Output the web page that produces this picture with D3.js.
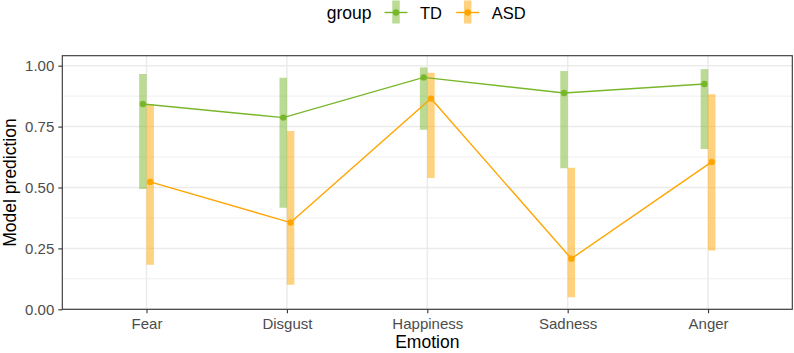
<!DOCTYPE html>
<html>
<head>
<meta charset="utf-8">
<script src="https://cdn.jsdelivr.net/npm/d3@7"></script>
<style>
  body { margin: 0; background: #fff; }
  svg { display: block; font-family: "Liberation Sans", Arial, sans-serif; }
</style>
</head>
<body>
<svg id="chart"></svg>
<script>
// data
const emotions = ["Fear", "Disgust", "Happiness", "Sadness", "Anger"];
const groups = ["TD", "ASD"];
const tdMean = [0.843, 0.787, 0.952, 0.888, 0.925];
const tdLow = [0.494, 0.417, 0.737, 0.579, 0.658];
const tdHigh = [0.966, 0.950, 0.993, 0.978, 0.986];
const asdMean = [0.523, 0.356, 0.865, 0.208, 0.605];
const asdLow = [0.183, 0.101, 0.539, 0.049, 0.241];
const asdHigh = [0.842, 0.732, 0.971, 0.581, 0.883];
const yTicks = [0, 0.25, 0.5, 0.75, 1];
const yMinor = [0.125, 0.375, 0.625, 0.875];

const width = 794;
const height = 353;
const margin = { top: 55.7, right: 1.7, bottom: 43.7, left: 62.3 };

const colors = { TD: "#78b72a", ASD: "#ffa500" };

const series = [
  { group: "TD", mean: tdMean, low: tdLow, high: tdHigh, dodge: -1 },
  { group: "ASD", mean: asdMean, low: asdLow, high: asdHigh, dodge: 1 },
];

const svg = d3.select("#chart").attr("width", width).attr("height", height);

const x = d3
  .scalePoint()
  .domain(emotions)
  .range([margin.left, width - margin.right])
  .padding(0.6);

const y = d3
  .scaleLinear()
  .domain([0, 1.041])
  .range([height - margin.bottom, margin.top]);

const dodgePx = x.step() * 0.026;

// grid
const grid = svg.append("g");
grid
  .selectAll("line.minor")
  .data(yMinor)
  .join("line")
  .attr("x1", margin.left)
  .attr("x2", width - margin.right)
  .attr("y1", (d) => y(d))
  .attr("y2", (d) => y(d))
  .attr("stroke", "#ebebeb")
  .attr("stroke-width", 0.8);
grid
  .selectAll("line.major")
  .data(yTicks)
  .join("line")
  .attr("x1", margin.left)
  .attr("x2", width - margin.right)
  .attr("y1", (d) => y(d))
  .attr("y2", (d) => y(d))
  .attr("stroke", "#ebebeb")
  .attr("stroke-width", 1.5);
grid
  .selectAll("line.vx")
  .data(emotions)
  .join("line")
  .attr("x1", (d) => x(d))
  .attr("x2", (d) => x(d))
  .attr("y1", margin.top)
  .attr("y2", height - margin.bottom)
  .attr("stroke", "#ebebeb")
  .attr("stroke-width", 1.5);

// ranges
series.forEach((s) => {
  svg
    .append("g")
    .selectAll("line")
    .data(emotions)
    .join("line")
    .attr("x1", (d) => x(d) + s.dodge * dodgePx)
    .attr("x2", (d) => x(d) + s.dodge * dodgePx)
    .attr("y1", (d, i) => y(s.low[i]))
    .attr("y2", (d, i) => y(s.high[i]))
    .attr("stroke", colors[s.group])
    .attr("stroke-opacity", 0.5)
    .attr("stroke-width", 7.5);
});

// lines + points
const line = d3
  .line()
  .x((d) => d.x)
  .y((d) => d.y);

series.forEach((s) => {
  const pts = emotions.map((e, i) => ({
    x: x(e) + s.dodge * dodgePx,
    y: y(s.mean[i]),
  }));
  svg
    .append("path")
    .attr("d", line(pts))
    .attr("fill", "none")
    .attr("stroke", colors[s.group])
    .attr("stroke-width", 1.4);
  svg
    .append("g")
    .selectAll("circle")
    .data(pts)
    .join("circle")
    .attr("cx", (d) => d.x)
    .attr("cy", (d) => d.y)
    .attr("r", 3.2)
    .attr("fill", colors[s.group]);
});

// panel border
svg
  .append("rect")
  .attr("x", margin.left)
  .attr("y", margin.top)
  .attr("width", width - margin.right - margin.left)
  .attr("height", height - margin.bottom - margin.top)
  .attr("fill", "none")
  .attr("stroke", "#333")
  .attr("stroke-width", 1.1);

// axes
const xAxis = svg
  .append("g")
  .attr("transform", `translate(0,${height - margin.bottom})`)
  .call(d3.axisBottom(x).tickSize(4).tickPadding(5));
const yAxis = svg
  .append("g")
  .attr("transform", `translate(${margin.left},0)`)
  .call(
    d3.axisLeft(y).tickValues(yTicks).tickFormat(d3.format(".2f")).tickSize(4).tickPadding(4)
  );

[xAxis, yAxis].forEach((a) => {
  a.select(".domain").remove();
  a.selectAll(".tick line").attr("stroke", "#333").attr("stroke-width", 1.1);
  a.selectAll(".tick text")
    .attr("fill", "#4d4d4d")
    .style("font-size", "15px")
    .style("font-family", "Liberation Sans, Arial, sans-serif");
});

// axis titles
svg
  .append("text")
  .text("Emotion")
  .attr("x", (margin.left + width - margin.right) / 2)
  .attr("y", 348)
  .attr("text-anchor", "middle")
  .attr("fill", "#000")
  .style("font-size", "17.5px");

svg
  .append("text")
  .text("Model prediction")
  .attr("transform", `translate(16,${(margin.top + height - margin.bottom) / 2}) rotate(-90)`)
  .attr("text-anchor", "middle")
  .attr("fill", "#000")
  .style("font-size", "17.5px");

// legend
const legend = svg.append("g");
legend
  .append("text")
  .text("group")
  .attr("x", 326.7)
  .attr("y", 19)
  .attr("fill", "#000")
  .style("font-size", "17.5px");

const keyX = [396, 467.7];
groups.forEach((g, i) => {
  const k = legend.append("g").attr("transform", `translate(${keyX[i]},12.5)`);
  k.append("line")
    .attr("x1", 0)
    .attr("x2", 0)
    .attr("y1", -12)
    .attr("y2", 11)
    .attr("stroke", colors[g])
    .attr("stroke-opacity", 0.5)
    .attr("stroke-width", 7.5);
  k.append("line")
    .attr("x1", -11.5)
    .attr("x2", 11.5)
    .attr("stroke", colors[g])
    .attr("stroke-width", 1.4);
  k.append("circle").attr("r", 3.2).attr("fill", colors[g]);
  k.append("text")
    .text(g)
    .attr("x", 24)
    .attr("y", 6.5)
    .attr("fill", "#000")
    .style("font-size", "16.5px");
});
</script>
</body>
</html>
